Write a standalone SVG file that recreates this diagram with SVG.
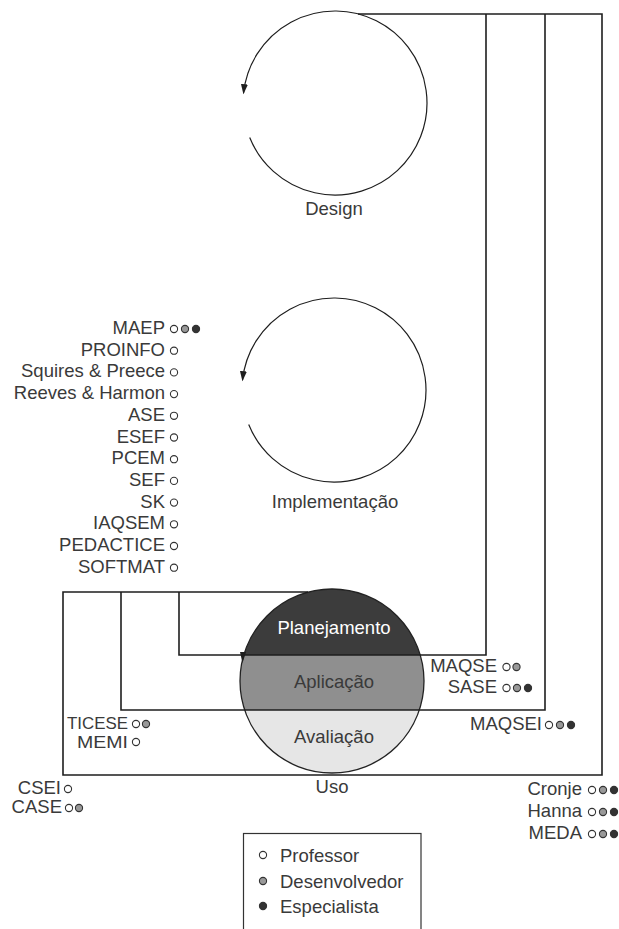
<svg xmlns="http://www.w3.org/2000/svg" width="619" height="929" viewBox="0 0 619 929">
<style>
text{font-family:"Liberation Sans",Arial,sans-serif;font-size:18.5px;fill:#3a3a3a}
.e{text-anchor:end}
.m{text-anchor:middle}
.ln{fill:none;stroke:#1e1e1e;stroke-width:1.6}
.arc{fill:none;stroke:#1e1e1e;stroke-width:1.2}
.p{fill:#fff;stroke:#333;stroke-width:1.1}
.d{fill:#999;stroke:#333;stroke-width:1.1}
.s{fill:#333;stroke:#333;stroke-width:1.1}
</style>
<defs>
<marker id="ah" markerUnits="userSpaceOnUse" markerWidth="11" markerHeight="7" refX="9" refY="3.5" orient="auto">
<path d="M0,0 L10,3.5 L0,7 z" fill="#1e1e1e"/>
</marker>
<clipPath id="cc"><circle cx="332" cy="681" r="92"/></clipPath>
</defs>
<rect width="619" height="929" fill="#fff"/>

<g id="design">
<path class="arc" d="M249.7,137.5 A92,92 0 1 0 243.5,93.2" marker-end="url(#ah)"/>
<text class="m" x="334" y="215">Design</text>
</g>

<g id="implementacao">
<path class="arc" d="M248.7,424.5 A92,92 0 1 0 242.5,380.2" marker-end="url(#ah)"/>
<text class="m" x="335" y="508">Implementação</text>
</g>

<g id="uso">
<g clip-path="url(#cc)">
<rect x="230" y="580" width="200" height="75" fill="#3c3c3c"/>
<rect x="230" y="655" width="200" height="55" fill="#8f8f8f"/>
<rect x="230" y="710" width="200" height="70" fill="#e6e6e6"/>
</g>
<circle cx="332" cy="681" r="92" fill="none" stroke="#222" stroke-width="1.3"/>
<text class="m" x="334" y="634" style="fill:#fff">Planejamento</text>
<text class="m" x="334" y="688">Aplicação</text>
<text class="m" x="334" y="743">Avaliação</text>
<text class="m" x="332" y="793">Uso</text>
</g>

<g id="connectors">
<path class="ln" d="M308,592 H63 V775 H602 V14 H358"/>
<path class="ln" d="M121,592 V710 H545 V14"/>
<path class="ln" d="M179,592 V655 H486 V14"/>
<polygon points="240,652 246,652 242.5,663" fill="#1e1e1e"/>
</g>

<g id="left-list">
<text class="e" x="165" y="334">MAEP</text>
<circle class="p" cx="174" cy="329" r="3.6"/><circle class="d" cx="185" cy="329" r="3.6"/><circle class="s" cx="196" cy="329" r="3.6"/>
<text class="e" x="165" y="355.7">PROINFO</text><circle class="p" cx="174" cy="350.7" r="3.6"/>
<text class="e" x="165" y="377.4">Squires &amp; Preece</text><circle class="p" cx="174" cy="372.4" r="3.6"/>
<text class="e" x="165" y="399.1">Reeves &amp; Harmon</text><circle class="p" cx="174" cy="394.1" r="3.6"/>
<text class="e" x="165" y="420.8">ASE</text><circle class="p" cx="174" cy="415.8" r="3.6"/>
<text class="e" x="165" y="442.5">ESEF</text><circle class="p" cx="174" cy="437.5" r="3.6"/>
<text class="e" x="165" y="464.2">PCEM</text><circle class="p" cx="174" cy="459.2" r="3.6"/>
<text class="e" x="165" y="485.9">SEF</text><circle class="p" cx="174" cy="480.9" r="3.6"/>
<text class="e" x="165" y="507.6">SK</text><circle class="p" cx="174" cy="502.6" r="3.6"/>
<text class="e" x="165" y="529.3">IAQSEM</text><circle class="p" cx="174" cy="524.3" r="3.6"/>
<text class="e" x="165" y="551">PEDACTICE</text><circle class="p" cx="174" cy="546" r="3.6"/>
<text class="e" x="165" y="572.7">SOFTMAT</text><circle class="p" cx="174" cy="567.7" r="3.6"/>
</g>

<g id="ticese">
<text x="67" y="729" style="font-size:17px" textLength="61" lengthAdjust="spacingAndGlyphs">TICESE</text>
<circle class="p" cx="136" cy="724" r="3.6"/><circle class="d" cx="146" cy="724" r="3.6"/>
<text x="77" y="748" style="font-size:17px" textLength="51" lengthAdjust="spacingAndGlyphs">MEMI</text><circle class="p" cx="136" cy="742" r="3.6"/>
</g>

<g id="csei">
<text class="e" x="61" y="794">CSEI</text><circle class="p" cx="68" cy="789" r="3.6"/>
<text class="e" x="62" y="813">CASE</text><circle class="p" cx="69" cy="808" r="3.6"/><circle class="d" cx="79" cy="808" r="3.6"/>
</g>

<g id="right-list">
<text class="e" x="497" y="672">MAQSE</text>
<circle class="p" cx="506.5" cy="667" r="3.6"/><circle class="d" cx="516.5" cy="667" r="3.6"/>
<text class="e" x="497" y="693">SASE</text>
<circle class="p" cx="506.5" cy="688" r="3.6"/><circle class="d" cx="517" cy="688" r="3.6"/><circle class="s" cx="528" cy="688" r="3.6"/>
<text class="e" x="542" y="730">MAQSEI</text>
<circle class="p" cx="549" cy="725" r="3.6"/><circle class="d" cx="560" cy="725" r="3.6"/><circle class="s" cx="571" cy="725" r="3.6"/>
<text class="e" x="582" y="795">Cronje</text>
<circle class="p" cx="592" cy="790" r="3.6"/><circle class="d" cx="603" cy="790" r="3.6"/><circle class="s" cx="614" cy="790" r="3.6"/>
<text class="e" x="582" y="817">Hanna</text>
<circle class="p" cx="592" cy="812" r="3.6"/><circle class="d" cx="603" cy="812" r="3.6"/><circle class="s" cx="614" cy="812" r="3.6"/>
<text class="e" x="582" y="839">MEDA</text>
<circle class="p" cx="592" cy="834" r="3.6"/><circle class="d" cx="603" cy="834" r="3.6"/><circle class="s" cx="614" cy="834" r="3.6"/>
</g>

<g id="legend">
<rect x="243.5" y="833.5" width="177.5" height="110" fill="none" stroke="#333" stroke-width="1.2"/>
<circle class="p" cx="263" cy="855" r="3.6"/><text x="280" y="862">Professor</text>
<circle class="d" cx="263" cy="881" r="3.6"/><text x="280" y="888">Desenvolvedor</text>
<circle class="s" cx="263" cy="906" r="3.6"/><text x="280" y="913">Especialista</text>
</g>
</svg>
